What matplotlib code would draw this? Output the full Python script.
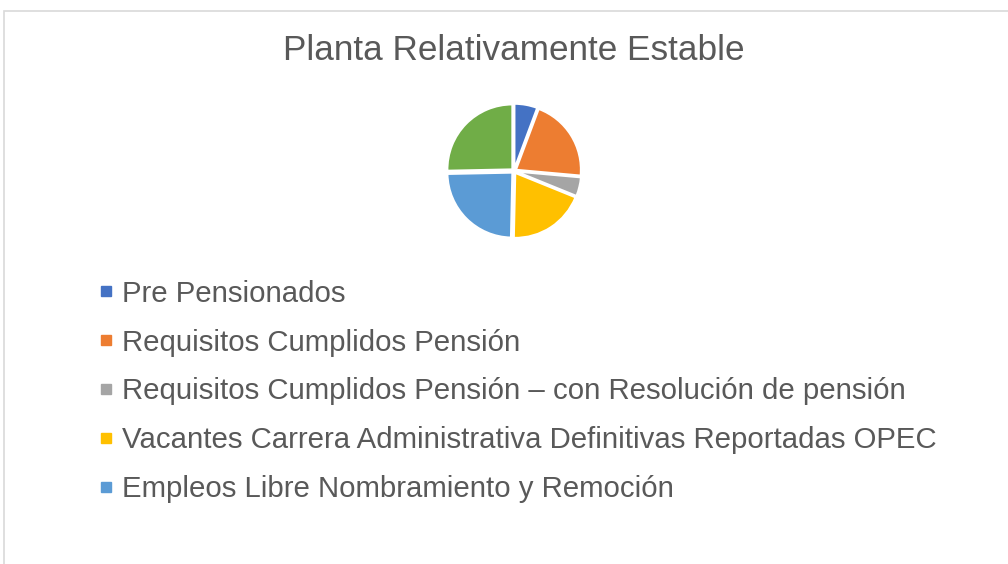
import matplotlib
matplotlib.use("Agg")
import matplotlib.pyplot as plt
from matplotlib.lines import Line2D
from matplotlib.patches import Rectangle

plt.rcParams['font.family'] = ['Liberation Sans', 'DejaVu Sans']

title = "Planta Relativamente Estable"
labels = ["Pre Pensionados",
          "Requisitos Cumplidos Pensión",
          "Requisitos Cumplidos Pensión – con Resolución de pensión",
          "Vacantes Carrera Administrativa Definitivas Reportadas OPEC",
          "Empleos Libre Nombramiento y Remoción",
          "Otros"]
values = [5.7, 20.7, 4.7, 19.2, 24.3, 25.3]
colors = ["#4472C4", "#ED7D31", "#A5A5A5", "#FFC000", "#5B9BD5", "#70AD47"]
legend_count = 5  # the last entry is cut off in the original chart

W, H = 1008, 564
fig = plt.figure(figsize=(W / 100, H / 100), dpi=100)

# chart frame (extends past the right and bottom edges)
fig.patches.append(Rectangle((4 / W, -0.1), 1.2, (H - 11) / H + 0.1,
                             transform=fig.transFigure, fill=False,
                             edgecolor="#d9d9d9", linewidth=1.2))

fig.text(514 / W, 1 - 51 / H, title, ha="center", va="center",
         fontsize=25.3, color="#595959")

# pie axes: 1 data unit = 65 px
R = 65
half = 1.1 * R
cx, cy = 514, H - 171
ax = fig.add_axes([(cx - half) / W, (cy - half) / H, 2 * half / W, 2 * half / H])
ax.pie(values, colors=colors, startangle=90, counterclock=False,
       explode=[0.035] * len(values),
       wedgeprops=dict(edgecolor="white", linewidth=1.5))
ax.set_xlim(-1.1, 1.1)
ax.set_ylim(-1.1, 1.1)
ax.set_aspect("equal")
ax.axis("off")

handles = [Line2D([], [], marker="s", linestyle="none", markersize=6.5,
                  markerfacecolor=c, markeredgecolor=c) for c in colors[:legend_count]]
fig.legend(handles, labels[:legend_count], loc="upper left",
           bbox_to_anchor=(88 / W, 1 - 268 / H), frameon=False,
           fontsize=21.2, labelcolor="#595959", handlelength=0.45,
           handletextpad=0.3, labelspacing=0.705, borderaxespad=0)

fig.savefig("out.png", dpi=100)
